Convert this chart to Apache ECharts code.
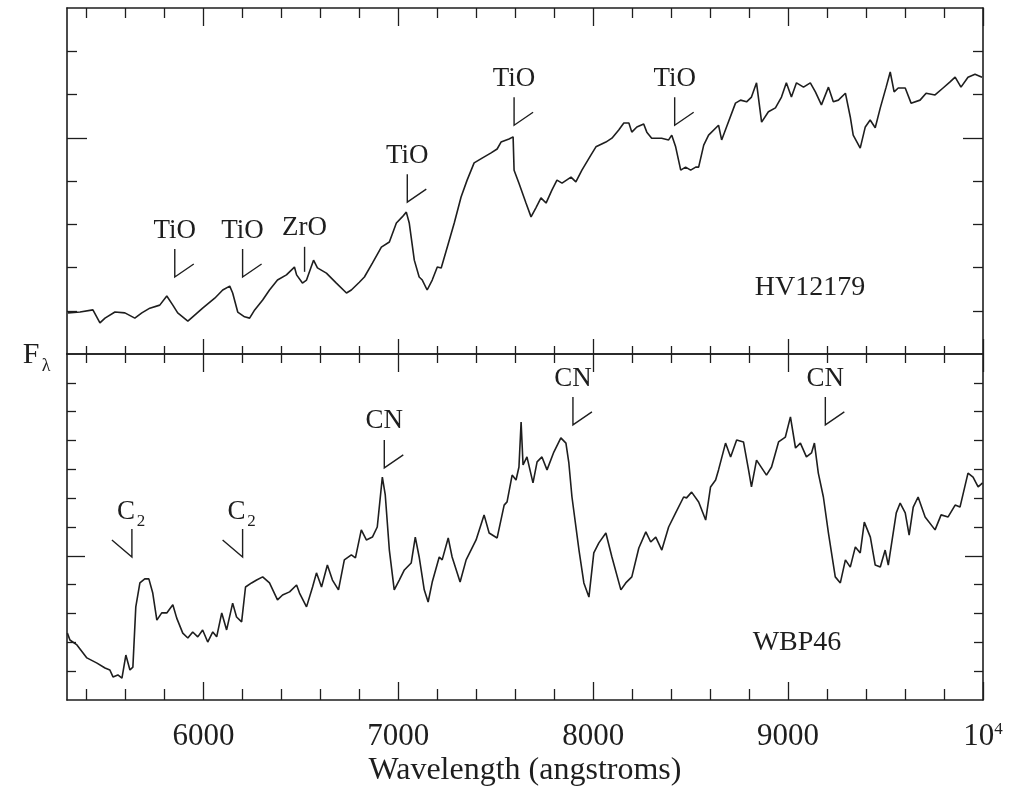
<!DOCTYPE html>
<html>
<head>
<meta charset="UTF-8">
<title>HV12179 / WBP46 spectra</title>
<script src="https://cdn.jsdelivr.net/npm/echarts@6/dist/echarts.min.js"></script>
</head>
<body style="margin:0">
<div id="main" style="width:1013px;height:786px;"></div>
<script type="text/javascript">
// wavelength (angstrom), flux in tick units
var hvSpectrum = [
  [5305,0.95],[5367,0.97],[5433,1.02],[5469,0.72],[5495,0.83],[5546,0.97],[5597,0.95],[5648,0.83],[5684,0.95],[5725,1.06],
  [5776,1.13],[5812,1.34],[5843,1.13],[5868,0.95],[5920,0.76],[5945,0.86],[5996,1.06],[6058,1.29],[6099,1.48],[6135,1.57],
  [6150,1.41],[6176,0.97],[6211,0.86],[6237,0.83],[6263,1.02],[6304,1.25],[6339,1.48],[6380,1.71],[6426,1.83],[6467,2.01],
  [6478,1.83],[6508,1.64],[6529,1.71],[6544,1.90],[6565,2.17],[6585,1.99],[6631,1.87],[6682,1.64],[6734,1.41],[6759,1.48],
  [6800,1.66],[6826,1.78],[6867,2.10],[6913,2.47],[6954,2.59],[6990,3.03],[7020,3.17],[7041,3.28],[7056,3.03],[7082,2.17],
  [7107,1.78],[7123,1.71],[7148,1.48],[7174,1.71],[7200,2.01],[7220,1.99],[7251,2.47],[7287,3.03],[7322,3.63],[7353,4.02],
  [7389,4.42],[7430,4.53],[7476,4.65],[7507,4.74],[7527,4.90],[7568,4.97],[7589,5.02],[7594,4.25],[7619,3.95],[7655,3.49],
  [7681,3.17],[7706,3.38],[7732,3.61],[7758,3.49],[7788,3.79],[7814,4.02],[7840,3.95],[7886,4.09],[7911,3.98],[7942,4.25],
  [7988,4.60],[8014,4.79],[8065,4.90],[8096,4.99],[8131,5.18],[8157,5.34],[8183,5.34],[8198,5.13],[8224,5.25],[8259,5.32],
  [8275,5.13],[8300,4.99],[8351,4.99],[8387,4.95],[8403,5.06],[8423,4.79],[8449,4.25],[8474,4.32],[8500,4.25],[8526,4.32],
  [8541,4.32],[8567,4.83],[8592,5.06],[8643,5.29],[8659,4.95],[8684,5.25],[8730,5.80],[8756,5.87],[8787,5.83],[8812,5.94],
  [8838,6.27],[8864,5.36],[8899,5.60],[8935,5.69],[8966,5.94],[8991,6.27],[9017,5.94],[9043,6.27],[9079,6.17],[9114,6.27],
  [9140,6.06],[9171,5.76],[9207,6.17],[9232,5.83],[9258,5.87],[9294,6.03],[9319,5.48],[9334,5.06],[9370,4.76],[9396,5.25],
  [9421,5.41],[9447,5.23],[9473,5.69],[9503,6.17],[9524,6.52],[9544,6.06],[9565,6.15],[9601,6.15],[9631,5.80],[9677,5.87],
  [9708,6.03],[9754,5.99],[9795,6.15],[9831,6.29],[9857,6.40],[9887,6.17],[9923,6.40],[9959,6.47],[9995,6.40]
];
var wbpSpectrum = [
  [5302,2.32],[5315,2.08],[5351,1.91],[5402,1.46],[5454,1.28],[5495,1.11],[5520,1.04],[5536,0.80],[5561,0.87],[5582,0.76],
  [5602,1.56],[5623,1.04],[5638,1.14],[5653,3.23],[5674,4.06],[5699,4.20],[5720,4.20],[5740,3.71],[5761,2.77],[5786,3.02],
  [5812,3.02],[5843,3.30],[5863,2.84],[5894,2.32],[5920,2.15],[5945,2.36],[5971,2.19],[5996,2.43],[6022,2.01],[6048,2.36],
  [6068,2.19],[6094,3.02],[6119,2.43],[6150,3.36],[6170,2.88],[6196,2.71],[6216,3.92],[6247,4.06],[6273,4.16],[6304,4.27],
  [6339,4.06],[6380,3.47],[6406,3.64],[6442,3.75],[6478,3.99],[6493,3.71],[6529,3.23],[6560,3.92],[6580,4.41],[6606,3.92],
  [6636,4.68],[6662,4.16],[6693,3.82],[6723,4.86],[6759,5.03],[6780,4.93],[6810,5.90],[6836,5.55],[6867,5.65],[6892,6.00],
  [6918,7.73],[6933,7.11],[6954,5.20],[6979,3.82],[7005,4.16],[7031,4.51],[7066,4.75],[7087,5.65],[7107,4.96],[7133,3.82],
  [7153,3.40],[7174,4.09],[7210,4.96],[7225,4.86],[7256,5.62],[7276,4.96],[7317,4.09],[7348,4.86],[7399,5.55],[7440,6.42],
  [7466,5.79],[7507,5.62],[7543,6.76],[7558,6.87],[7584,7.80],[7604,7.63],[7619,8.08],[7630,9.64],[7640,8.15],[7660,8.43],
  [7691,7.53],[7712,8.26],[7737,8.43],[7763,7.98],[7798,8.60],[7834,9.09],[7860,8.91],[7875,8.22],[7891,7.04],[7927,5.20],
  [7952,4.06],[7978,3.57],[8003,5.10],[8029,5.45],[8065,5.79],[8096,4.96],[8142,3.82],[8167,4.06],[8198,4.27],[8234,5.27],
  [8270,5.83],[8295,5.48],[8321,5.65],[8352,5.20],[8387,6.00],[8423,6.49],[8464,7.04],[8479,7.01],[8505,7.21],[8541,6.87],
  [8577,6.24],[8602,7.39],[8628,7.63],[8643,7.98],[8679,8.91],[8705,8.43],[8736,9.02],[8771,8.95],[8797,7.98],[8812,7.39],
  [8838,8.32],[8889,7.80],[8915,8.08],[8951,8.95],[8986,9.12],[9012,9.82],[9038,8.74],[9063,8.91],[9094,8.43],[9120,8.57],
  [9135,8.91],[9155,7.87],[9181,7.04],[9207,5.79],[9242,4.27],[9268,4.06],[9294,4.86],[9319,4.61],[9345,5.31],[9370,5.10],
  [9391,6.17],[9422,5.65],[9447,4.68],[9473,4.61],[9498,5.20],[9514,4.68],[9555,6.49],[9575,6.83],[9601,6.49],[9621,5.72],
  [9642,6.69],[9667,7.04],[9703,6.35],[9754,5.90],[9785,6.42],[9821,6.35],[9857,6.76],[9882,6.69],[9923,7.87],[9949,7.73],
  [9975,7.39],[9998,7.53]
];

// band markers: position of the marker tip, and its label
var hvMarkPos = [[5853,1.78],[6201,1.78],[6519,1.90],[7046,3.51],[7594,5.29],[8418,5.29]];
var hvMarkText = ['TiO','TiO','ZrO','TiO','TiO','TiO'];
var wbpMarkPos = [[5633,4.96],[6201,4.96],[6928,8.05],[7896,9.54],[9191,9.54]];
var wbpMarkText = ['C2','C2','CN','CN','CN'];

var xMajorTicks = [6000, 7000, 8000, 9000, 10000];
var xMinorTicks = [5400,5600,5800,6200,6400,6600,6800,7200,7400,7600,7800,8200,8400,8600,8800,9200,9400,9600,9800];
var hvYMinor = [1,2,3,4,6,7];
var wbpYMinor = [1,2,3,4,6,7,8,9,10,11];
var yMajor = [5];

var FONT = 'Liberation Serif';
var INK = '#1e1e1e';

function xAx(grid, pos, ticks, len, lineOn) {
  return {
    type: 'value', gridIndex: grid, position: pos, min: 5300, max: 10000,
    axisLine: { show: lineOn, onZero: false, lineStyle: { color: INK, width: 1.6 } },
    axisTick: { show: true, inside: true, length: len, customValues: ticks, lineStyle: { color: INK, width: 1.3 } },
    axisLabel: { show: false },
    splitLine: { show: false }
  };
}
function yAx(grid, pos, max, ticks, len, lineOn) {
  return {
    type: 'value', gridIndex: grid, position: pos, min: 0, max: max,
    axisLine: { show: lineOn, onZero: false, lineStyle: { color: INK, width: 1.6 } },
    axisTick: { show: true, inside: true, length: len, customValues: ticks, lineStyle: { color: INK, width: 1.3 } },
    axisLabel: { show: false },
    splitLine: { show: false }
  };
}

var xAxes = [
  xAx(0, 'top', xMajorTicks, 18, true),
  xAx(0, 'top', xMinorTicks, 10, false),
  xAx(0, 'bottom', xMajorTicks, 15, true),
  xAx(0, 'bottom', xMinorTicks, 8, false),
  xAx(1, 'top', xMajorTicks, 18, true),
  xAx(1, 'top', xMinorTicks, 9, false),
  xAx(1, 'bottom', xMajorTicks, 18, true),
  xAx(1, 'bottom', xMinorTicks, 11, false)
];
xAxes[6].axisLabel = {
  show: true, customValues: xMajorTicks, margin: 21, color: INK,
  fontFamily: FONT, fontSize: 31,
  formatter: function (v) { return v === 10000 ? '{b|10}{s|4}' : String(v); },
  rich: {
    b: { fontFamily: FONT, fontSize: 31, color: INK },
    s: { fontFamily: FONT, fontSize: 17, color: INK, verticalAlign: 'top', padding: [0, 0, 12, 0] }
  }
};
xAxes[6].name = 'Wavelength (angstroms)';
xAxes[6].nameLocation = 'middle';
xAxes[6].nameGap = 55;
xAxes[6].nameTextStyle = { fontFamily: FONT, fontSize: 32, color: INK };

var yAxes = [
  yAx(0, 'left', 8, yMajor, 20, true),
  yAx(0, 'left', 8, hvYMinor, 10, false),
  yAx(0, 'right', 8, yMajor, 20, true),
  yAx(0, 'right', 8, hvYMinor, 10, false),
  yAx(1, 'left', 12, yMajor, 18, true),
  yAx(1, 'left', 12, wbpYMinor, 9, false),
  yAx(1, 'right', 12, yMajor, 18, true),
  yAx(1, 'right', 12, wbpYMinor, 9, false)
];

function markerSeries(xi, yi, pos, texts) {
  return {
    type: 'custom', xAxisIndex: xi, yAxisIndex: yi, data: pos,
    encode: { x: 0, y: 1 }, silent: true, z: 5,
    renderItem: function (params, api) {
      var p = api.coord([api.value(0), api.value(1)]);
      var x = p[0], y = p[1];
      var label = texts[params.dataIndex];
      var pts, top;
      if (label === 'C2') {
        pts = [[x - 20, y - 17], [x, y], [x, y - 28]];
        top = y - 28;
      } else if (label === 'ZrO') {
        pts = [[x, y], [x, y - 25]];
        top = y - 25;
      } else {
        pts = [[x, y - 28], [x, y], [x + 19, y - 13]];
        top = y - 28;
      }
      var kids = [{
        type: 'polyline', shape: { points: pts },
        style: { stroke: INK, lineWidth: 1.4, fill: null }
      }];
      var ts = function (txt, tx, ty, size) {
        return {
          type: 'text', x: tx, y: ty,
          style: { text: txt, fill: INK, fontFamily: FONT, fontSize: size,
                   align: 'center', verticalAlign: 'bottom', textAlign: 'center', textVerticalAlign: 'bottom' }
        };
      };
      if (label === 'C2') {
        kids.push(ts('C', x - 6, top - 4, 27));
        kids.push(ts('2', x + 9, top + 1, 17));
      } else {
        kids.push(ts(label, x, top - 5, 27));
      }
      return { type: 'group', children: kids };
    }
  };
}

var myChart = echarts.init(document.getElementById('main'));
myChart.setOption({
  backgroundColor: '#ffffff',
  animation: false,
  grid: [
    { left: 67, top: 8, width: 916, height: 346, outerBoundsMode: 'none' },
    { left: 67, top: 354, width: 916, height: 346, outerBoundsMode: 'none' }
  ],
  xAxis: xAxes,
  yAxis: yAxes,
  graphic: [
    { type: 'text', x: 810, y: 288, style: { text: 'HV12179', fill: INK, fontFamily: FONT, fontSize: 28, align: 'center', verticalAlign: 'middle' } },
    { type: 'text', x: 797, y: 643, style: { text: 'WBP46', fill: INK, fontFamily: FONT, fontSize: 28, align: 'center', verticalAlign: 'middle' } },
    { type: 'text', x: 31, y: 355, style: { text: 'F', fill: INK, fontFamily: FONT, fontSize: 30, align: 'center', verticalAlign: 'middle' } },
    { type: 'text', x: 46, y: 366, style: { text: 'λ', fill: INK, fontFamily: FONT, fontSize: 18, align: 'center', verticalAlign: 'middle' } }
  ],
  series: [
    {
      name: 'HV12179', type: 'line', xAxisIndex: 0, yAxisIndex: 0,
      data: hvSpectrum, showSymbol: false, symbol: 'none', silent: true,
      lineStyle: { color: INK, width: 1.6 }
    },
    {
      name: 'WBP46', type: 'line', xAxisIndex: 4, yAxisIndex: 4,
      data: wbpSpectrum, showSymbol: false, symbol: 'none', silent: true,
      lineStyle: { color: INK, width: 1.6 }
    },
    markerSeries(0, 0, hvMarkPos, hvMarkText),
    markerSeries(4, 4, wbpMarkPos, wbpMarkText)
  ]
});
</script>
</body>
</html>
